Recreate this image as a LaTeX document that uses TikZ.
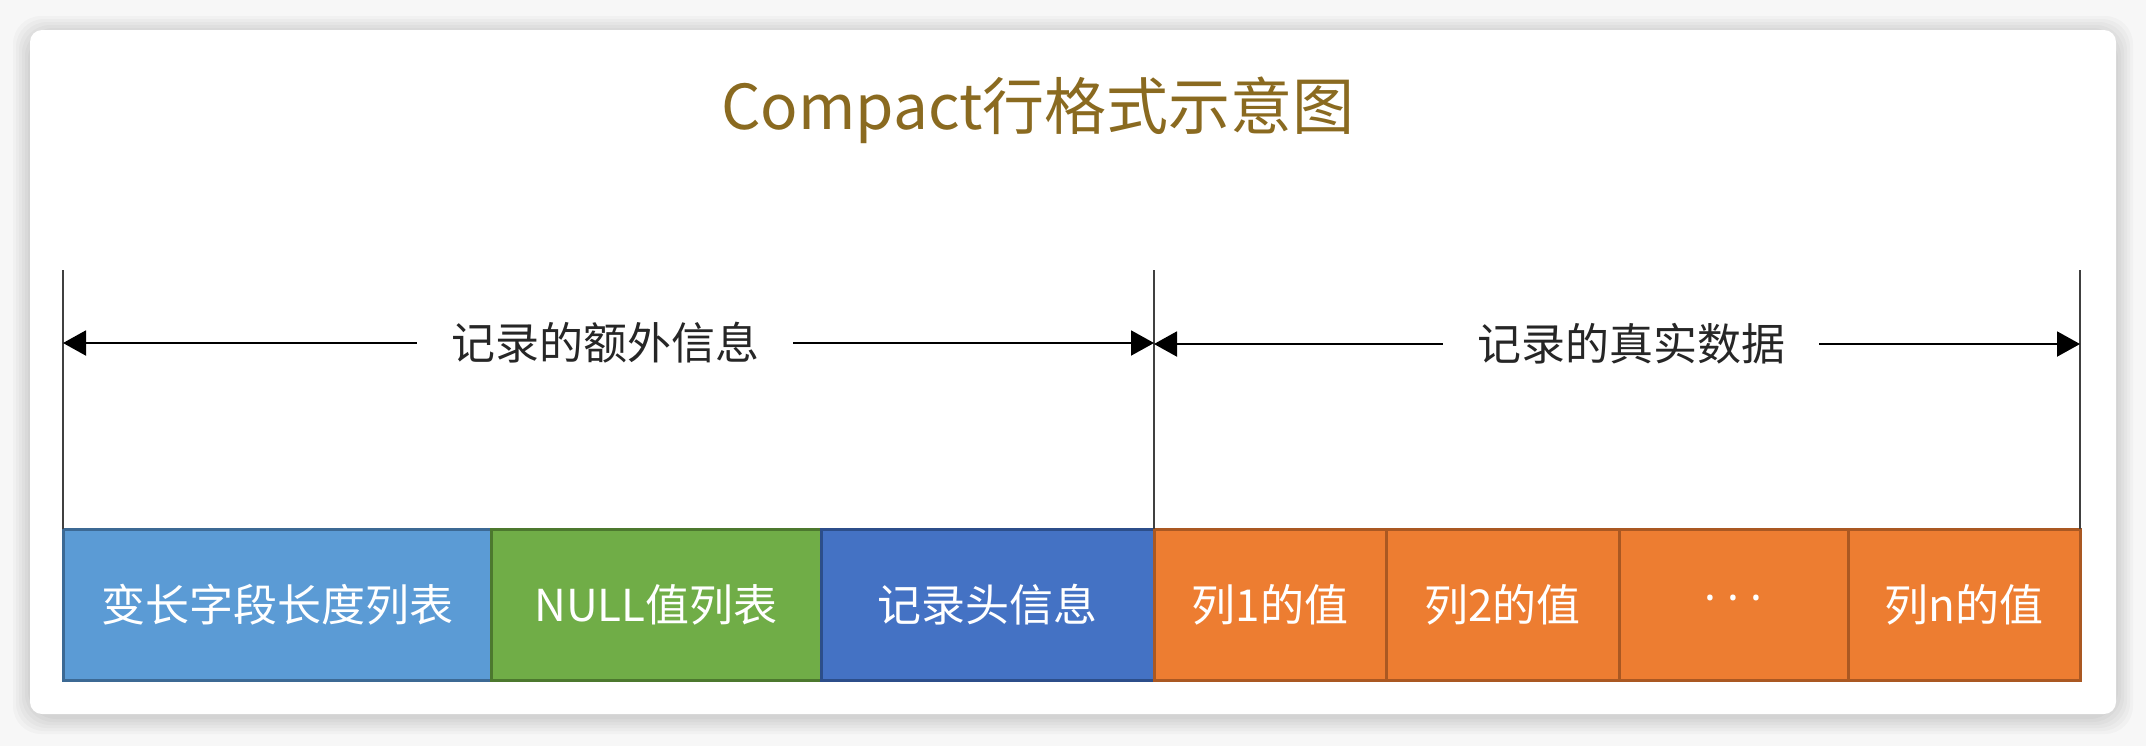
\documentclass[tikz,border=0pt]{standalone}
\usepackage{fontspec}
\setmainfont{Noto Sans CJK SC}
\newfontfamily\latinfont{Noto Sans}
\usetikzlibrary{positioning, arrows.meta}
\definecolor{PageGrey}{RGB}{247, 247, 247}
\definecolor{TitleGold}{RGB}{138, 106, 32}
\definecolor{FieldBlue}{RGB}{91, 155, 213}
\definecolor{FieldBlueEdge}{RGB}{60, 105, 148}
\definecolor{FieldGreen}{RGB}{112, 173, 71}
\definecolor{FieldGreenEdge}{RGB}{76, 120, 46}
\definecolor{FieldNavy}{RGB}{68, 114, 196}
\definecolor{FieldNavyEdge}{RGB}{44, 78, 138}
\definecolor{FieldOrange}{RGB}{237, 125, 49}
\definecolor{FieldOrangeEdge}{RGB}{170, 88, 34}

\begin{document}
\begin{tikzpicture}[x=0.5pt, y=-0.5pt,
    field/.style={draw, line width=1.5pt, minimum height=75.5pt, outer sep=0pt,
      inner sep=0pt, text=white, font=\fontsize{22}{26}\selectfont},
    span label/.style={inner xsep=17pt, font=\fontsize{22}{26}\selectfont, text=black!85},
    guide/.style={draw=black!75, line width=1.3pt},
    dim/.style={draw=black, line width=1pt, -{Triangle[length=11.5pt, width=12.5pt]}}]
    \useasboundingbox (0,0) rectangle (2146,746);

    % Card with soft shadow
    \fill[PageGrey] (0,0) rectangle (2146,746);
    \foreach \d in {2,5,...,17} {
      \fill[black, opacity=0.022, rounded corners=14pt] (30-\d,30-\d+3) rectangle (2116+\d,714+\d+3);
    }
    \fill[white, rounded corners=6pt] (30,30) rectangle (2116,714);

    % Title
    \node[text=TitleGold, font=\fontsize{31}{36}\selectfont] (title) at (1038,110) {Compact行格式示意图};

    % Row fields
    \node[field, fill=FieldBlue, draw=FieldBlueEdge, minimum width=214pt, anchor=north west] (varlen) at (63,529) {变长字段长度列表};
    \node[field, fill=FieldGreen, draw=FieldGreenEdge, minimum width=165pt, right=0pt of varlen] (nulls) {NULL值列表};
    \node[field, fill=FieldNavy, draw=FieldNavyEdge, minimum width=166.5pt, right=0pt of nulls] (header) {记录头信息};
    \node[field, fill=FieldOrange, draw=FieldOrangeEdge, minimum width=116pt, right=0pt of header] (col1) {列1的值};
    \node[field, fill=FieldOrange, draw=FieldOrangeEdge, minimum width=116.5pt, right=0pt of col1] (col2) {列2的值};
    \node[field, fill=FieldOrange, draw=FieldOrangeEdge, minimum width=114.5pt, right=0pt of col2] (dots) {\latinfont ·\hspace{5.5pt}·\hspace{5.5pt}·};
    \node[field, fill=FieldOrange, draw=FieldOrangeEdge, minimum width=116pt, right=0pt of dots] (coln) {列n的值};

    % Boundary lines
    \coordinate (topline) at (0,270);
    \draw[guide] (varlen.north west) -- (varlen.north west |- topline);
    \draw[guide] (header.north east) -- (header.north east |- topline);
    \draw[guide] (coln.north east) -- (coln.north east |- topline);

    % Span labels
    \node[span label] (extra) at (605,343) {记录的额外信息};
    \node[span label] (real) at (1631,344) {记录的真实数据};

    \draw[dim] (extra.west) -- (extra -| varlen.north west);
    \draw[dim] (extra.east) -- (extra -| header.north east);
    \draw[dim] (real.west) -- (real -| header.north east);
    \draw[dim] (real.east) -- (real -| coln.north east);
  \end{tikzpicture}
\end{document}
